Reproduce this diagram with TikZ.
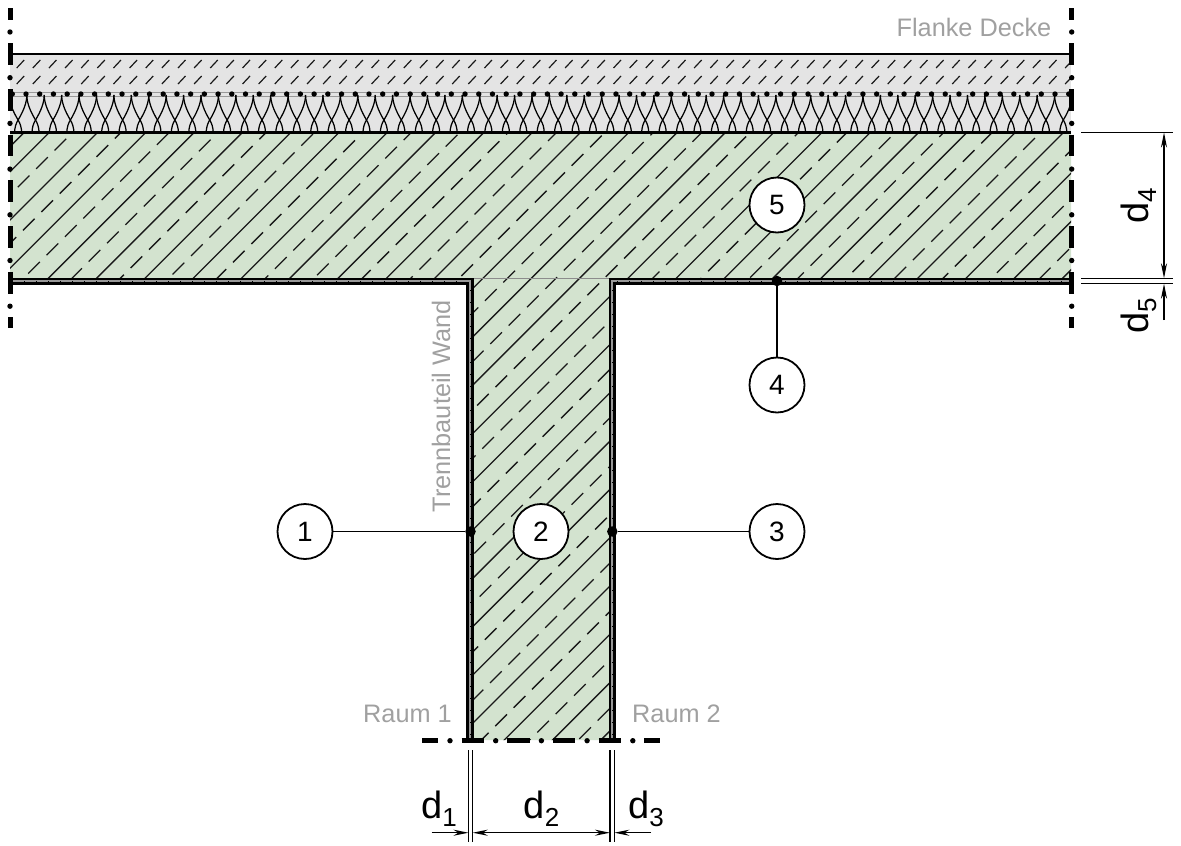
\documentclass[tikz,border=0pt]{standalone}
\usepackage{fontspec}
\setmainfont{Liberation Sans}
\usetikzlibrary{arrows.meta}
\definecolor{wallgreen}{HTML}{D3E3CF}
\definecolor{layergrey}{HTML}{E4E4E4}
\definecolor{labelgrey}{HTML}{A0A0A0}
\definecolor{plastergrey}{HTML}{989898}
\tikzset{
  numcircle/.style={circle,draw=black,line width=1.8pt,fill=white,minimum size=55pt,inner sep=0pt,font=\fontsize{28}{28}\selectfont},
  greylabel/.style={text=labelgrey,inner sep=0pt,font=\fontsize{25.3}{25}\selectfont},
  dimlabel/.style={inner sep=0pt,font=\fontsize{38}{38}\selectfont},
  leaderline/.style={line width=1.7pt},
  leaderdot/.style={circle,fill=black,minimum size=10.5pt,inner sep=0pt},
  hatchsolid/.style={line width=1.3pt,black!90},
  hatchshort/.style={line width=1.2pt,black!90},
  plasterline/.style={line width=2.4pt,black},
  dimline/.style={line width=1.5pt},
  dimarrow/.style={line width=1.5pt,-{Stealth[length=15pt,width=6pt]}},
  dimboth/.style={line width=1.5pt,{Stealth[length=15pt,width=6pt]}-{Stealth[length=15pt,width=6pt]}},
  breakbar/.style={line width=5pt,black},
}
\newcommand{\dsub}[1]{d\raisebox{-8pt}{\fontsize{26}{26}\selectfont #1}}
\begin{document}
\begin{tikzpicture}[x=1pt,y=-1pt]
\useasboundingbox (0,0) rectangle (1181,846);
% fills
\fill[layergrey] (10,54) rectangle (1071,132);
\fill[wallgreen] (10,132) -- (1071,132) -- (1071,279) -- (612,279) -- (612,740) -- (470,740) -- (470,279) -- (10,279) -- cycle;
\fill[plastergrey] (10,279) -- (472.5,279) -- (472.5,740) -- (467.5,740) -- (467.5,284) -- (10,284) -- cycle;
\fill[plastergrey] (1071,279) -- (610,279) -- (610,740) -- (614.5,740) -- (614.5,284) -- (1071,284) -- cycle;
% concrete hatch
\begin{scope}
\clip (10,133) -- (1071,133) -- (1071,278) -- (610,278) -- (610,740) -- (472.5,740) -- (472.5,278) -- (10,278) -- cycle;
\foreach \k in {-1,...,25}{
  \pgfmathsetmacro{\s}{181.7+48.3*\k}
  \draw[hatchsolid] (\s-132,132) -- (\s-760,760);
  \pgfmathsetmacro{\cx}{61+42*\k}
  \pgfmathsetmacro{\cy}{144+6.4*\k}
  \draw[hatchsolid,dash pattern=on 16.5pt off 9.5pt] (\cx-5.85-736,\cy+5.85+736) -- (\cx+736,\cy-736);
}
\draw[black!45,line width=1pt] (472.5,278) -- (610,278);
\end{scope}
% screed hatch
\begin{scope}
\clip (10,54) rectangle (1071,92);
\foreach \k in {0,...,65}{
  \pgfmathsetmacro{\xx}{16.7+16.13*\k}
  \draw[hatchshort] (\xx,68) -- (\xx+7.5,60);
  \draw[hatchshort] (\xx,84) -- (\xx+7.5,76);
}
\end{scope}
% insulation
\begin{scope}
\clip (10,90) rectangle (1071,132);
\draw[black!40,line width=1pt] (10,92) -- (1071,92);
\draw[black!40,line width=1pt] (10,96.5) -- (1071,96.5);
\foreach \k in {-1,...,61}{
  \pgfmathsetmacro{\c}{18.1+17.42*\k}
  \draw[line width=1.25pt] (\c+8.71,95) .. controls (\c+8.71,102) and (\c+6,110) .. (\c,120) .. controls (\c-1.8,123) and (\c-3.6,127) .. (\c-3.6,134);
  \draw[line width=1.25pt] (\c-8.71,95) .. controls (\c-8.71,102) and (\c-6,110) .. (\c,120) .. controls (\c+1.8,123) and (\c+3.6,127) .. (\c+3.6,134);
}
\foreach \k in {-1,...,77}{
  \fill (26+13.72*\k,94) circle (2.7pt);
}
\end{scope}
% layer lines
\draw[line width=2pt] (10,54) -- (1071,54);
\draw[line width=2.2pt] (10,132.5) -- (1071,132.5);
% plaster lines
\draw[plasterline] (10,279) -- (472.5,279) -- (472.5,740);
\draw[plasterline] (10,283.5) -- (467.5,283.5) -- (467.5,740);
\draw[plasterline] (1071,279) -- (610,279) -- (610,740);
\draw[plasterline] (1071,283.5) -- (614.5,283.5) -- (614.5,740);
\draw[black,line width=1pt,dash pattern=on 1pt off 11pt] (12,281.2) -- (465,281.2);
\draw[black,line width=1pt,dash pattern=on 1pt off 11pt] (617,281.2) -- (1071,281.2);
\draw[black,line width=1pt,dash pattern=on 1pt off 11pt] (470,290) -- (470,738);
\draw[black,line width=1pt,dash pattern=on 1pt off 11pt] (612.2,290) -- (612.2,738);
% break lines
\foreach \xb in {10,1071.7}{
  \draw[breakbar] (\xb,8) -- (\xb,20);
  \foreach \k in {0,...,5}{
    \draw[breakbar] (\xb,43.3+45.7*\k) -- (\xb,65+45.7*\k);
  }
  \draw[breakbar] (\xb,317) -- (\xb,328);
  \foreach \k in {0,...,6}{
    \fill (\xb,32+45.7*\k) circle (2.7pt);
  }
}
\draw[breakbar] (422,740.7) -- (438,740.7);
\foreach \k in {0,...,3}{
  \draw[breakbar] (461.7+45.7*\k,740.7) -- (484+45.7*\k,740.7);
}
\draw[breakbar] (644,740.7) -- (660,740.7);
\foreach \k in {0,...,4}{
  \fill (450+45.7*\k,740.7) circle (2.7pt);
}
% dimension extension lines
\coordinate (extLa) at (468.5,750); \coordinate (extLb) at (468.5,842);
\coordinate (extLc) at (472.7,750); \coordinate (extLd) at (472.7,842);
\coordinate (extRa) at (610,750); \coordinate (extRb) at (610,842);
\coordinate (extRc) at (614.3,750); \coordinate (extRd) at (614.3,842);
\draw[dimline] (extLa) -- (extLb);
\draw[dimline] (extLc) -- (extLd);
\draw[dimline] (extRa) -- (extRb);
\draw[dimline] (extRc) -- (extRd);
\coordinate (d1s) at (431.7,832.7); \coordinate (d1e) at (468.5,832.7);
\coordinate (d2s) at (472.7,832.7); \coordinate (d2e) at (610,832.7);
\coordinate (d3s) at (651,832.7); \coordinate (d3e) at (614.3,832.7);
\draw[dimarrow] (d1s) -- (d1e);
\draw[dimboth] (d2s) -- (d2e);
\draw[dimarrow] (d3s) -- (d3e);
\coordinate (extTa) at (1081,132.5); \coordinate (extTb) at (1173,132.5);
\coordinate (extMa) at (1081,278.3); \coordinate (extMb) at (1173,278.3);
\coordinate (extNa) at (1081,283.7); \coordinate (extNb) at (1173,283.7);
\draw[dimline] (extTa) -- (extTb);
\draw[dimline] (extMa) -- (extMb);
\draw[dimline] (extNa) -- (extNb);
\coordinate (d4s) at (1164,132.5); \coordinate (d4e) at (1164,278.3);
\coordinate (d5s) at (1164,320); \coordinate (d5e) at (1164,283.7);
\draw[dimboth] (d4s) -- (d4e);
\draw[dimarrow] (d5s) -- (d5e);
% labels
\node[dimlabel,anchor=base west] (ld1) at (421,818) {\dsub{1}};
\node[dimlabel,anchor=base west] (ld2) at (523.5,818) {\dsub{2}};
\node[dimlabel,anchor=base west] (ld3) at (628,818) {\dsub{3}};
\node[dimlabel,rotate=90,anchor=base west] (ld4) at (1148,224) {\dsub{4}};
\node[dimlabel,rotate=90,anchor=base west] (ld5) at (1148,334) {\dsub{5}};
\node[greylabel,anchor=base east] (flanke) at (1051.5,36) {Flanke Decke};
\node[greylabel,anchor=base west,rotate=90] (trenn) at (450,512.5) {Trennbauteil Wand};
\node[greylabel,anchor=base west] (raum1) at (363,722.5) {Raum 1};
\node[greylabel,anchor=base west] (raum2) at (632,722.5) {Raum 2};
% numbered circles
\node[numcircle] (n1) at (305,531.5) {1};
\node[numcircle] (n2) at (541,531.5) {2};
\node[numcircle] (n3) at (777,531.5) {3};
\node[numcircle] (n4) at (777,385) {4};
\node[numcircle] (n5) at (777,205) {5};
\node[leaderdot] (p1) at (470.5,531.5) {};
\node[leaderdot] (p3) at (612.3,531.5) {};
\node[leaderdot] (p4) at (777,281) {};
\draw[leaderline] (n1) -- (p1);
\draw[leaderline] (n3) -- (p3);
\draw[leaderline] (n4) -- (p4);
\end{tikzpicture}
\end{document}
